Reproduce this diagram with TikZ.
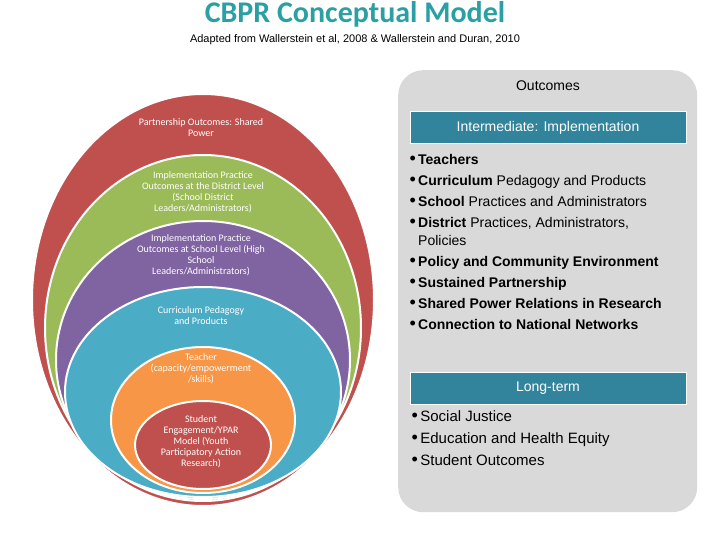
\documentclass[tikz,border=0pt]{standalone}
\usepackage{fontspec}
\setmainfont{Liberation Sans}
\newfontfamily\calibri{Carlito}
\usepackage{xcolor}
\usetikzlibrary{shapes.geometric}
\definecolor{ringred}{HTML}{C0504D}
\definecolor{ringgreen}{HTML}{9BBB59}
\definecolor{ringpurple}{HTML}{8064A2}
\definecolor{ringblue}{HTML}{4BACC6}
\definecolor{ringorange}{HTML}{F79646}
\definecolor{tealhead}{HTML}{31849B}
\definecolor{titleteal}{HTML}{2AA0A4}
\definecolor{panelgray}{HTML}{D9D9D9}
\newcommand{\bigbul}{{\fontsize{18}{18}\selectfont\textbullet}\,}
\begin{document}
\begin{tikzpicture}[x=1pt,y=-1pt,
    ring/.style={ellipse, draw=white, line width=2pt, inner sep=0pt},
    ringtext/.style={text=white, font=\calibri\fontsize{10}{11}\selectfont, align=center},
    head/.style={fill=tealhead, draw=white, line width=1pt, minimum width=276pt,
                 minimum height=32pt, text=white, font=\fontsize{14}{16}\selectfont},
    bul/.style={anchor=north west, align=left, font=\fontsize{14}{21}\selectfont}
]
\useasboundingbox (0,0) rectangle (720,540);
% title
\node (title) at (355,14) {\calibri\bfseries\color{titleteal}\fontsize{30}{32}\selectfont CBPR Conceptual Model};
\node (sub) at (355,40) {\fontsize{11}{12}\selectfont Adapted from Wallerstein et al, 2008 \& Wallerstein and Duran, 2010};
% nested rings
\node[ring, fill=ringred, minimum width=342pt, minimum height=412pt] (partner) at (203,300) {};
\node[ring, fill=ringgreen, minimum width=316pt, minimum height=346pt] (district) at (203,328) {};
\node[ring, fill=ringpurple, minimum width=294pt, minimum height=278pt] (school) at (203,360) {};
\node[ring, fill=ringblue, minimum width=276pt, minimum height=210pt] (curric) at (203,392) {};
\node[ring, fill=ringorange, minimum width=184pt, minimum height=146pt] (teacher) at (203,420) {};
\node[ring, fill=ringred, minimum width=136pt, minimum height=88pt] (student) at (203,445) {};
\node[ringtext] (t1) at (201,128) {Partnership Outcomes: Shared\\Power};
\node[ringtext] (t2) at (203,192) {Implementation Practice\\Outcomes at the District Level\\(School District\\Leaders/Administrators)};
\node[ringtext] (t3) at (201,255) {Implementation Practice\\Outcomes at School Level (High\\School\\Leaders/Administrators)};
\node[ringtext] (t4) at (201,316) {Curriculum Pedagogy\\and Products};
\node[ringtext] (t5) at (201,369) {Teacher\\(capacity/empowerment\\/skills)};
\node[ringtext] (t6) at (201,442) {Student\\Engagement/YPAR\\Model (Youth\\Participatory Action\\Research)};
% outcomes panel
\node[fill=panelgray, rounded corners=25pt, minimum width=299pt, minimum height=442pt,
      anchor=north west] (panel) at (398,70) {};
\node (outc) at (548,86) {\fontsize{14}{16}\selectfont Outcomes};
\node[head] (inter) at (548,128) {Intermediate: Implementation};
\node[bul] (list1) at (406,151) {%
  \bigbul\textbf{Teachers}\\
  \bigbul\textbf{Curriculum} Pedagogy and Products\\
  \bigbul\textbf{School} Practices and Administrators\\
  \bigbul\textbf{District} Practices, Administrators,\\[-3pt]
  \phantom{\bigbul}Policies\\
  \bigbul\textbf{Policy and Community Environment}\\
  \bigbul\textbf{Sustained Partnership}\\
  \bigbul\textbf{Shared Power Relations in Research}\\
  \bigbul\textbf{Connection to National Networks}};
\node[head] (longt) at (548,388) {Long-term};
\node[bul, font=\fontsize{15}{22}\selectfont] (list2) at (408,407) {%
  \bigbul Social Justice\\
  \bigbul Education and Health Equity\\
  \bigbul Student Outcomes};
\end{tikzpicture}
\end{document}
